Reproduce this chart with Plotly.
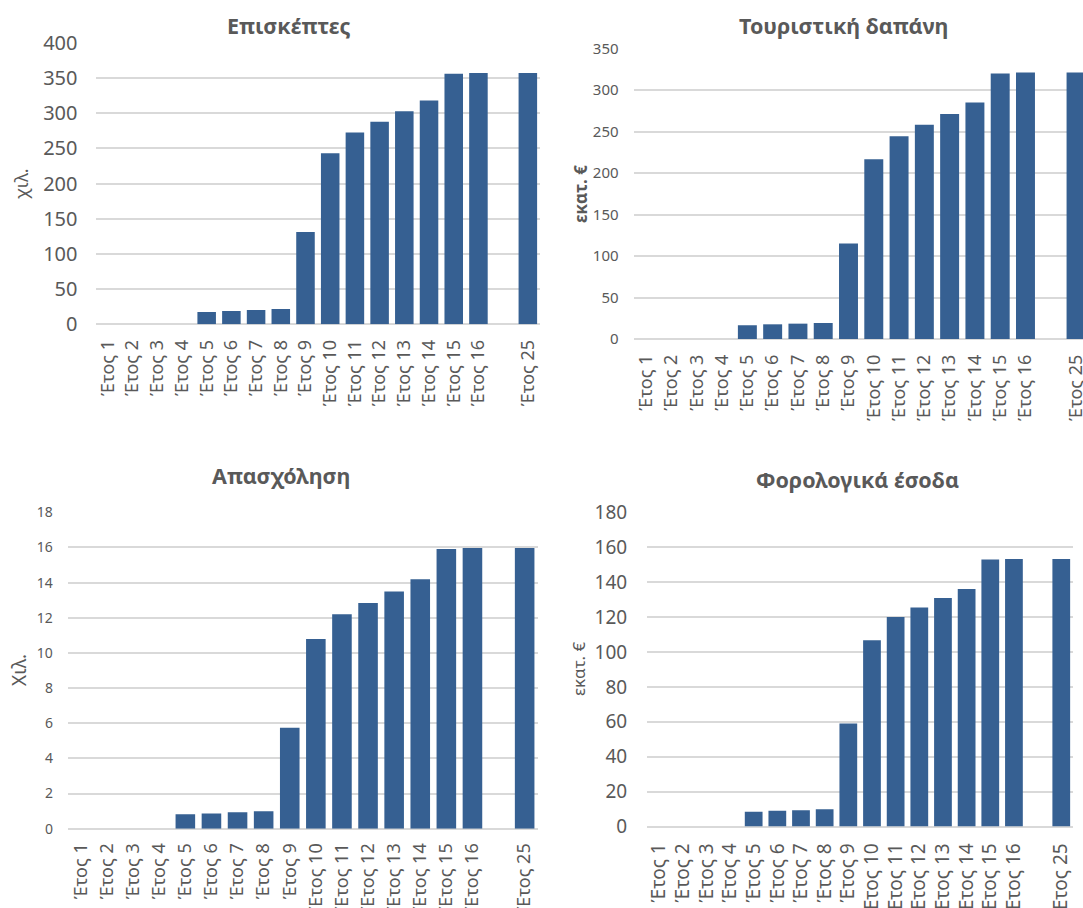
import plotly.graph_objects as go

# Categories: years 1-16 and year 25, with a blank slot between them
years = [f"Έτος {i}" for i in range(1, 17)] + ["Έτος 25"]
spacer = " "
axis_order = years[:16] + [spacer] + years[16:]

visitors = [0, 0, 0, 0, 17.5, 19, 20.4, 21.8, 131, 243, 272.5, 287.8, 302.8, 318, 356, 357, 357]
spending = [0, 0, 0, 0, 16.5, 17.7, 18.5, 19.3, 115, 216.6, 244.3, 258, 271.2, 285, 319.8, 321, 321]
employment = [0, 0, 0, 0, 0.82, 0.87, 0.93, 0.99, 5.75, 10.79, 12.2, 12.84, 13.5, 14.19, 15.91, 15.97, 15.97]
tax_revenue = [0, 0, 0, 0, 8.4, 9.0, 9.35, 9.9, 59, 106.7, 120, 125.4, 130.9, 136.1, 152.9, 153.3, 153.3]

titles = ["Επισκέπτες", "Τουριστική δαπάνη", "Απασχόληση", "Φορολογικά έσοδα"]
units = ["χιλ.", "εκατ. €", "Χιλ.", "εκατ. €"]

W, H = 1083, 908
BAR = "#366092"
TXT = "#595959"
GRID = "#d9d9d9"
FONT = "Noto Sans"

def px(x):
    return x / W

def py(y):
    return 1 - y / H

# panel geometry in pixels: x-left, x-right, y-top (max tick), y-bottom (zero)
panels = [
    dict(data=visitors, x0=95.5, x1=540.2, yt=42.7, yb=324.3, ymax=400, dtick=50,
         xr=[-0.5, 17.5], ytf=20, xtf=18, ystand=17, xstand=11, gw=2),
    dict(data=spending, x0=633.6, x1=1083, yt=48.5, yb=339, ymax=350, dtick=50,
         xr=[-0.5, 17.275], ytf=15, xtf=18, ystand=14, xstand=11, gw=1.5),
    dict(data=employment, x0=67.9, x1=537.7, yt=512.3, yb=828.7, ymax=18, dtick=2,
         xr=[-0.5, 17.5], ytf=14, xtf=18, ystand=14, xstand=10, gw=1.5),
    dict(data=tax_revenue, x0=647.2, x1=1073.1, yt=512.3, yb=826.5, ymax=180, dtick=20,
         xr=[-0.5, 17.5], ytf=19, xtf=19, ystand=19, xstand=12, gw=1.8),
]

fig = go.Figure()
layout = {}
for i, p in enumerate(panels, start=1):
    sfx = "" if i == 1 else str(i)
    fig.add_trace(go.Bar(
        x=years, y=p["data"], marker=dict(color=BAR, line=dict(width=0)),
        xaxis="x" + sfx, yaxis="y" + sfx, showlegend=False,
    ))
    layout["xaxis" + sfx] = dict(
        domain=[px(p["x0"]), px(p["x1"])], anchor="y" + sfx,
        type="category", categoryorder="array", categoryarray=axis_order,
        range=p["xr"], tickangle=-90, showgrid=False, zeroline=False,
        showline=False, ticks="", ticklabelstandoff=p["xstand"],
        automargin=False,
        tickfont=dict(family=FONT, size=p["xtf"], color=TXT),
    )
    layout["yaxis" + sfx] = dict(
        domain=[py(p["yb"]), py(p["yt"])], anchor="x" + sfx,
        range=[0, p["ymax"]], dtick=p["dtick"], tick0=0,
        showgrid=True, gridcolor=GRID, gridwidth=p["gw"],
        zeroline=True, zerolinecolor=GRID, zerolinewidth=p["gw"],
        showline=False, ticks="", ticklabelstandoff=p["ystand"],
        automargin=False,
        tickfont=dict(family=FONT, size=p["ytf"], color=TXT),
    )

annotations = []
# chart titles
title_pos = [(288, 25), (843, 25), (281, 476), (857, 479)]
for t, (x, y) in zip(titles, title_pos):
    annotations.append(dict(
        text=f"<b>{t}</b>", x=px(x), y=py(y), xref="paper", yref="paper",
        xanchor="center", yanchor="middle", showarrow=False,
        font=dict(family=FONT, size=21.5, color=TXT),
    ))
# y-axis unit labels
unit_specs = [
    (units[0], 21, 184, False, 18),
    (units[1], 580, 194, True, 17),
    (units[2], 19, 670, False, 19),
    (units[3], 578, 669, False, 17),
]
for u, x, y, bold, size in unit_specs:
    annotations.append(dict(
        text=f"<b>{u}</b>" if bold else u, x=px(x), y=py(y),
        xref="paper", yref="paper", xanchor="center", yanchor="middle",
        textangle=-90, showarrow=False,
        font=dict(family=FONT, size=size, color=TXT),
    ))

fig.update_layout(
    width=W, height=H,
    margin=dict(l=0, r=0, t=0, b=0, autoexpand=False),
    paper_bgcolor="white", plot_bgcolor="white",
    bargap=0.25, annotations=annotations,
    font=dict(family=FONT, color=TXT),
    **layout,
)

fig.write_html("out.html")
